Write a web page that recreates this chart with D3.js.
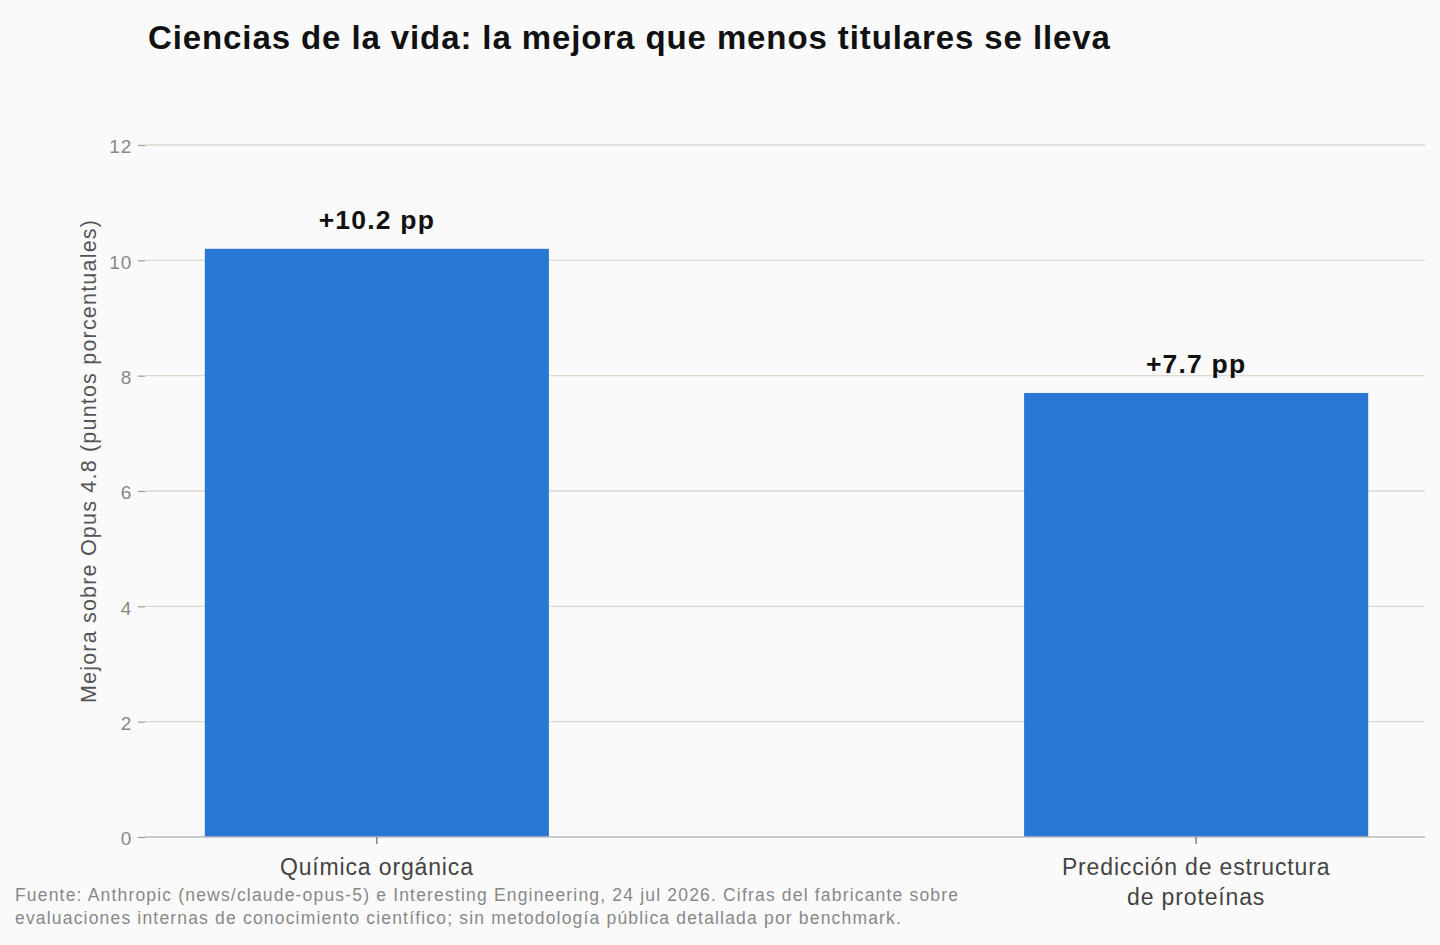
<!DOCTYPE html>
<html><head><meta charset="utf-8">
<script src="https://cdn.jsdelivr.net/npm/d3@7"></script>
<style>
html,body{margin:0;padding:0;background:#fafafa;}
svg{display:block;font-family:"Liberation Sans",Arial,Helvetica,sans-serif;}
</style></head>
<body>
<svg id="chart" width="1440" height="945"></svg>
<script>
const categories = ["Química orgánica", "Predicción de estructura\nde proteínas"];
const values = [10.2, 7.7];
const valueLabels = ["+10.2 pp", "+7.7 pp"];
const yTicks = [0, 2, 4, 6, 8, 10, 12];
const title = "Ciencias de la vida: la mejora que menos titulares se lleva";
const yTitle = "Mejora sobre Opus 4.8 (puntos porcentuales)";
const sourceLines = [
  "Fuente: Anthropic (news/claude-opus-5) e Interesting Engineering, 24 jul 2026. Cifras del fabricante sobre",
  "evaluaciones internas de conocimiento científico; sin metodología pública detallada por benchmark."
];

(function () {
const svg = d3.select("#chart");
const mLeft = 145, mRight = 1425, mTop = 145, mBottom = 837;

const x = d3.scaleBand().domain(categories).range([mLeft, 1428]).paddingInner(0.58).paddingOuter(0.073);
const y = d3.scaleLinear().domain([0, 12]).range([mBottom, mTop]);

svg.append("rect").attr("width", 1440).attr("height", 945).attr("fill", "#fafafa");

// gridlines
svg.append("g").selectAll("line").data(yTicks.filter(d => d > 0)).join("line")
  .attr("x1", mLeft).attr("x2", mRight)
  .attr("y1", d => y(d)).attr("y2", d => y(d))
  .attr("stroke", "#dcd9d0").attr("stroke-width", 1.4);

// y axis
const yAxis = svg.append("g").attr("transform", `translate(${mLeft},0)`)
  .call(d3.axisLeft(y).tickValues(yTicks).tickSize(7).tickPadding(6));
yAxis.select(".domain").remove();
yAxis.selectAll(".tick line").attr("stroke", "#999").attr("stroke-width", 1.2);
yAxis.selectAll(".tick text").attr("fill", "#888").attr("font-size", 19).attr("letter-spacing", 0.8)
  .attr("dy", "0.42em")
  .attr("font-family", "'Liberation Sans', Arial, sans-serif");

// bars
svg.append("g").selectAll("rect").data(values).join("rect")
  .attr("x", (d, i) => x(categories[i]))
  .attr("width", x.bandwidth())
  .attr("y", d => y(d))
  .attr("height", d => y(0) - y(d))
  .attr("fill", "#2a78d6");

// baseline
svg.append("line").attr("x1", mLeft).attr("x2", mRight).attr("y1", y(0)).attr("y2", y(0))
  .attr("stroke", "#bbbbbb").attr("stroke-width", 1.5);

// x ticks
svg.append("g").selectAll("line").data(categories).join("line")
  .attr("x1", d => x(d) + x.bandwidth() / 2).attr("x2", d => x(d) + x.bandwidth() / 2)
  .attr("y1", y(0)).attr("y2", y(0) + 7)
  .attr("stroke", "#666").attr("stroke-width", 1.2);

// x labels
const xl = svg.append("g").selectAll("text").data(categories).join("text")
  .attr("x", d => x(d) + x.bandwidth() / 2)
  .attr("y", y(0) + 38)
  .attr("text-anchor", "middle").attr("fill", "#444").attr("font-size", 23).attr("letter-spacing", 0.85);
xl.each(function(d) {
  const t = d3.select(this);
  d.split("\n").forEach((line, i) => {
    t.append("tspan").attr("x", x(d) + x.bandwidth() / 2).attr("dy", i === 0 ? 0 : 30).text(line);
  });
});

// value labels
svg.append("g").selectAll("text").data(values).join("text")
  .attr("x", (d, i) => x(categories[i]) + x.bandwidth() / 2)
  .attr("y", d => y(d) - 20)
  .attr("text-anchor", "middle").attr("fill", "#111").attr("font-size", 26.5).attr("font-weight", "bold")
  .attr("letter-spacing", 1.2)
  .text((d, i) => valueLabels[i]);

// y title
svg.append("text").attr("transform", `translate(96,461) rotate(-90)`)
  .attr("text-anchor", "middle").attr("fill", "#555").attr("font-size", 21.5).attr("letter-spacing", 1.2)
  .text(yTitle);

// title
svg.append("text").attr("x", 148).attr("y", 49).attr("fill", "#111")
  .attr("font-size", 33).attr("font-weight", "bold").attr("letter-spacing", 0.9).text(title);

// source
svg.append("g").selectAll("text").data(sourceLines).join("text")
  .attr("x", 15).attr("y", (d, i) => 901 + i * 23)
  .attr("fill", "#888").attr("font-size", 17.5).attr("letter-spacing", 1.18).text(d => d);
})();
</script>
</body></html>
